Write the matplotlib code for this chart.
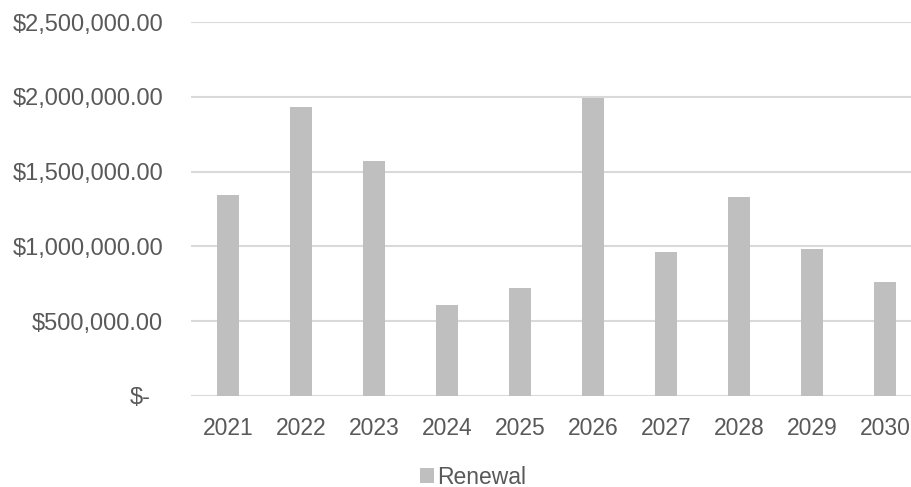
import numpy as np
import matplotlib
matplotlib.use("Agg")
import matplotlib.pyplot as plt
import matplotlib.transforms as mtransforms
import matplotlib.patches as mpatches

plt.rcParams.update({
    "font.family": ["Liberation Sans", "DejaVu Sans"],
    "font.size": 16.5,
})

TXT, GRID, BAR = "#595959", "#D9D9D9", "#BFBFBF"

# ── Data ─────────────────────────────────────────────────────────────────────
years = ["2021", "2022", "2023", "2024", "2025",
         "2026", "2027", "2028", "2029", "2030"]
renewal = [1345000, 1929000, 1569000, 611000, 725000,
           1995000, 960000, 1331000, 985000, 765000]
yticks = [0, 500000, 1000000, 1500000, 2000000, 2500000]

# ── Figure ───────────────────────────────────────────────────────────────────
fig = plt.figure(figsize=(9.12, 4.87), dpi=100)
ax = fig.add_axes([191.5 / 912, 1 - 396 / 487, 730 / 912, 374 / 487])

x = np.arange(len(years))
ax.bar(x, renewal, width=0.3, color=BAR, zorder=2)

ax.set_xlim(-0.5, len(years) - 0.5)
ax.set_ylim(0, 2500000)
ax.set_yticks(yticks)
ax.set_yticklabels(["$-"] + [f"${v:,.2f}" for v in yticks[1:]])
ax.set_xticks(x)
ax.set_xticklabels(years)

ax.grid(axis="y", color=GRID, linewidth=1.5, zorder=0)
for s in ax.spines.values():
    s.set_visible(False)
ax.tick_params(length=0, colors=TXT)
ax.tick_params(axis="y", pad=20.5, labelsize=17)
ax.tick_params(axis="x", pad=15, labelsize=16.5)

# accounting-style zero label sits a bit further left
zero = ax.get_yticklabels()[0]
zero.set_transform(zero.get_transform() +
                   mtransforms.ScaledTranslation(-12 / 100, 0, fig.dpi_scale_trans))

leg = fig.legend([mpatches.Patch(facecolor=BAR)], ["Renewal"],
                 loc="center", bbox_to_anchor=(473 / 912, 1 - 477 / 487),
                 frameon=False, handlelength=0.6, handleheight=0.6,
                 handletextpad=0.15, fontsize=16.5)
for t in leg.get_texts():
    t.set_color(TXT)

fig.savefig("out.png", dpi=100)
